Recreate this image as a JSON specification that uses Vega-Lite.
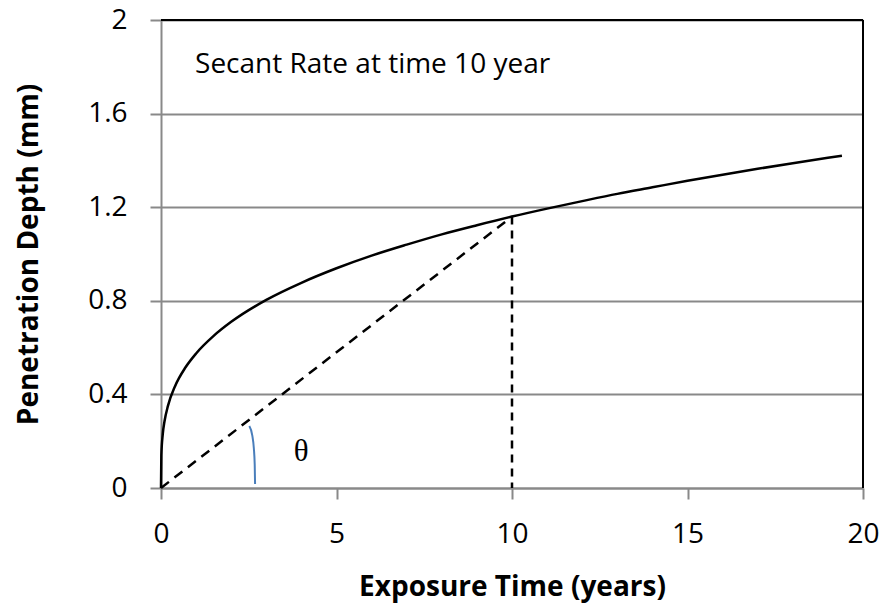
{
  "$schema": "https://vega.github.io/schema/vega-lite/v6.json",
  "autosize": "none",
  "width": 702,
  "height": 468,
  "padding": {"left": 161, "top": 20, "right": 21, "bottom": 119},
  "background": "white",
  "config": {
    "view": {"stroke": null},
    "axis": {
      "labelFont": "Open Sans",
      "labelFontSize": 28,
      "labelColor": "black",
      "labelFlush": false,
      "titleFont": "Open Sans",
      "titleFontSize": 28,
      "titleFontWeight": "bold",
      "titleColor": "black",
      "domainColor": "#898989",
      "domainWidth": 2,
      "tickColor": "#898989",
      "tickWidth": 2,
      "tickSize": 11,
      "gridColor": "#898989",
      "gridWidth": 2
    },
    "axisX": {"grid": false, "labelPadding": 21, "titlePadding": 25},
    "axisY": {"labelPadding": 23, "titlePadding": 44}
  },
  "datasets": {
    "depth": [
      {"t": 0, "d": 0},
      {"t": 0.01, "d": 0.141},
      {"t": 0.05, "d": 0.23},
      {"t": 0.1, "d": 0.285},
      {"t": 0.2, "d": 0.352},
      {"t": 0.4, "d": 0.435},
      {"t": 0.7, "d": 0.516},
      {"t": 1, "d": 0.575},
      {"t": 1.5, "d": 0.65},
      {"t": 2, "d": 0.71},
      {"t": 3, "d": 0.804},
      {"t": 4, "d": 0.877},
      {"t": 5, "d": 0.939},
      {"t": 6, "d": 0.993},
      {"t": 7, "d": 1.04},
      {"t": 8, "d": 1.084},
      {"t": 9, "d": 1.123},
      {"t": 10, "d": 1.16},
      {"t": 11, "d": 1.194},
      {"t": 12, "d": 1.226},
      {"t": 13, "d": 1.257},
      {"t": 14, "d": 1.285},
      {"t": 15, "d": 1.313},
      {"t": 16, "d": 1.339},
      {"t": 17, "d": 1.364},
      {"t": 18, "d": 1.388},
      {"t": 19, "d": 1.411},
      {"t": 19.4, "d": 1.42}
    ],
    "secant": [
      {"t": 0, "d": 0},
      {"t": 10, "d": 1.16}
    ],
    "drop": [
      {"t": 10, "d": 1.16},
      {"t": 10, "d": 0}
    ],
    "arc": [
      {"t": 2.516, "d": 0.265},
      {"t": 2.6, "d": 0.225},
      {"t": 2.645, "d": 0.17},
      {"t": 2.67, "d": 0.1},
      {"t": 2.68, "d": 0.017}
    ],
    "frame": [
      {"t": 0, "t2": 20, "d": 2, "d2": 2},
      {"t": 20, "t2": 20, "d": 0, "d2": 2}
    ],
    "notes": [
      {"t": 0.97, "d": 1.774, "label": "Secant Rate at time 10 year"}
    ],
    "angle": [
      {"t": 3.99, "d": 0.154, "label": "θ"}
    ]
  },
  "layer": [
    {
      "data": {"name": "frame"},
      "mark": {"type": "rule", "color": "black", "strokeWidth": 2},
      "encoding": {
        "x": {"field": "t", "type": "quantitative", "scale": {"domain": [0, 20], "nice": false}, "axis": {"values": [0, 5, 10, 15, 20]}, "title": "Exposure Time (years)"},
        "x2": {"field": "t2"},
        "y": {"field": "d", "type": "quantitative", "scale": {"domain": [0, 2], "nice": false}, "axis": {"values": [0, 0.4, 0.8, 1.2, 1.6, 2], "format": "~g"}, "title": "Penetration Depth (mm)"},
        "y2": {"field": "d2"}
      }
    },
    {
      "data": {"name": "arc"},
      "mark": {"type": "line", "color": "#4a7ebb", "strokeWidth": 2, "interpolate": "monotone"},
      "encoding": {
        "x": {"field": "t", "type": "quantitative", "title": "Exposure Time (years)"},
        "y": {"field": "d", "type": "quantitative", "title": "Penetration Depth (mm)"},
        "order": {"field": "d", "sort": "descending"}
      }
    },
    {
      "data": {"name": "secant"},
      "mark": {"type": "line", "color": "black", "strokeWidth": 2.5, "strokeDash": [10, 7]},
      "encoding": {
        "x": {"field": "t", "type": "quantitative", "title": "Exposure Time (years)"},
        "y": {"field": "d", "type": "quantitative", "title": "Penetration Depth (mm)"}
      }
    },
    {
      "data": {"name": "drop"},
      "mark": {"type": "line", "color": "black", "strokeWidth": 2.5, "strokeDash": [8, 6]},
      "encoding": {
        "x": {"field": "t", "type": "quantitative", "title": "Exposure Time (years)"},
        "y": {"field": "d", "type": "quantitative", "title": "Penetration Depth (mm)"},
        "order": {"field": "d", "sort": "descending"}
      }
    },
    {
      "data": {"name": "depth"},
      "mark": {"type": "line", "color": "black", "strokeWidth": 2.5, "interpolate": "monotone"},
      "encoding": {
        "x": {"field": "t", "type": "quantitative", "title": "Exposure Time (years)"},
        "y": {"field": "d", "type": "quantitative", "title": "Penetration Depth (mm)"}
      }
    },
    {
      "data": {"name": "notes"},
      "mark": {"type": "text", "font": "Open Sans", "fontSize": 28, "align": "left", "baseline": "alphabetic", "color": "black"},
      "encoding": {
        "x": {"field": "t", "type": "quantitative", "title": "Exposure Time (years)"},
        "y": {"field": "d", "type": "quantitative", "title": "Penetration Depth (mm)"},
        "text": {"field": "label"}
      }
    },
    {
      "data": {"name": "angle"},
      "mark": {"type": "text", "font": "Liberation Serif", "fontSize": 31, "align": "center", "baseline": "middle", "color": "black"},
      "encoding": {
        "x": {"field": "t", "type": "quantitative", "title": "Exposure Time (years)"},
        "y": {"field": "d", "type": "quantitative", "title": "Penetration Depth (mm)"},
        "text": {"field": "label"}
      }
    }
  ]
}
